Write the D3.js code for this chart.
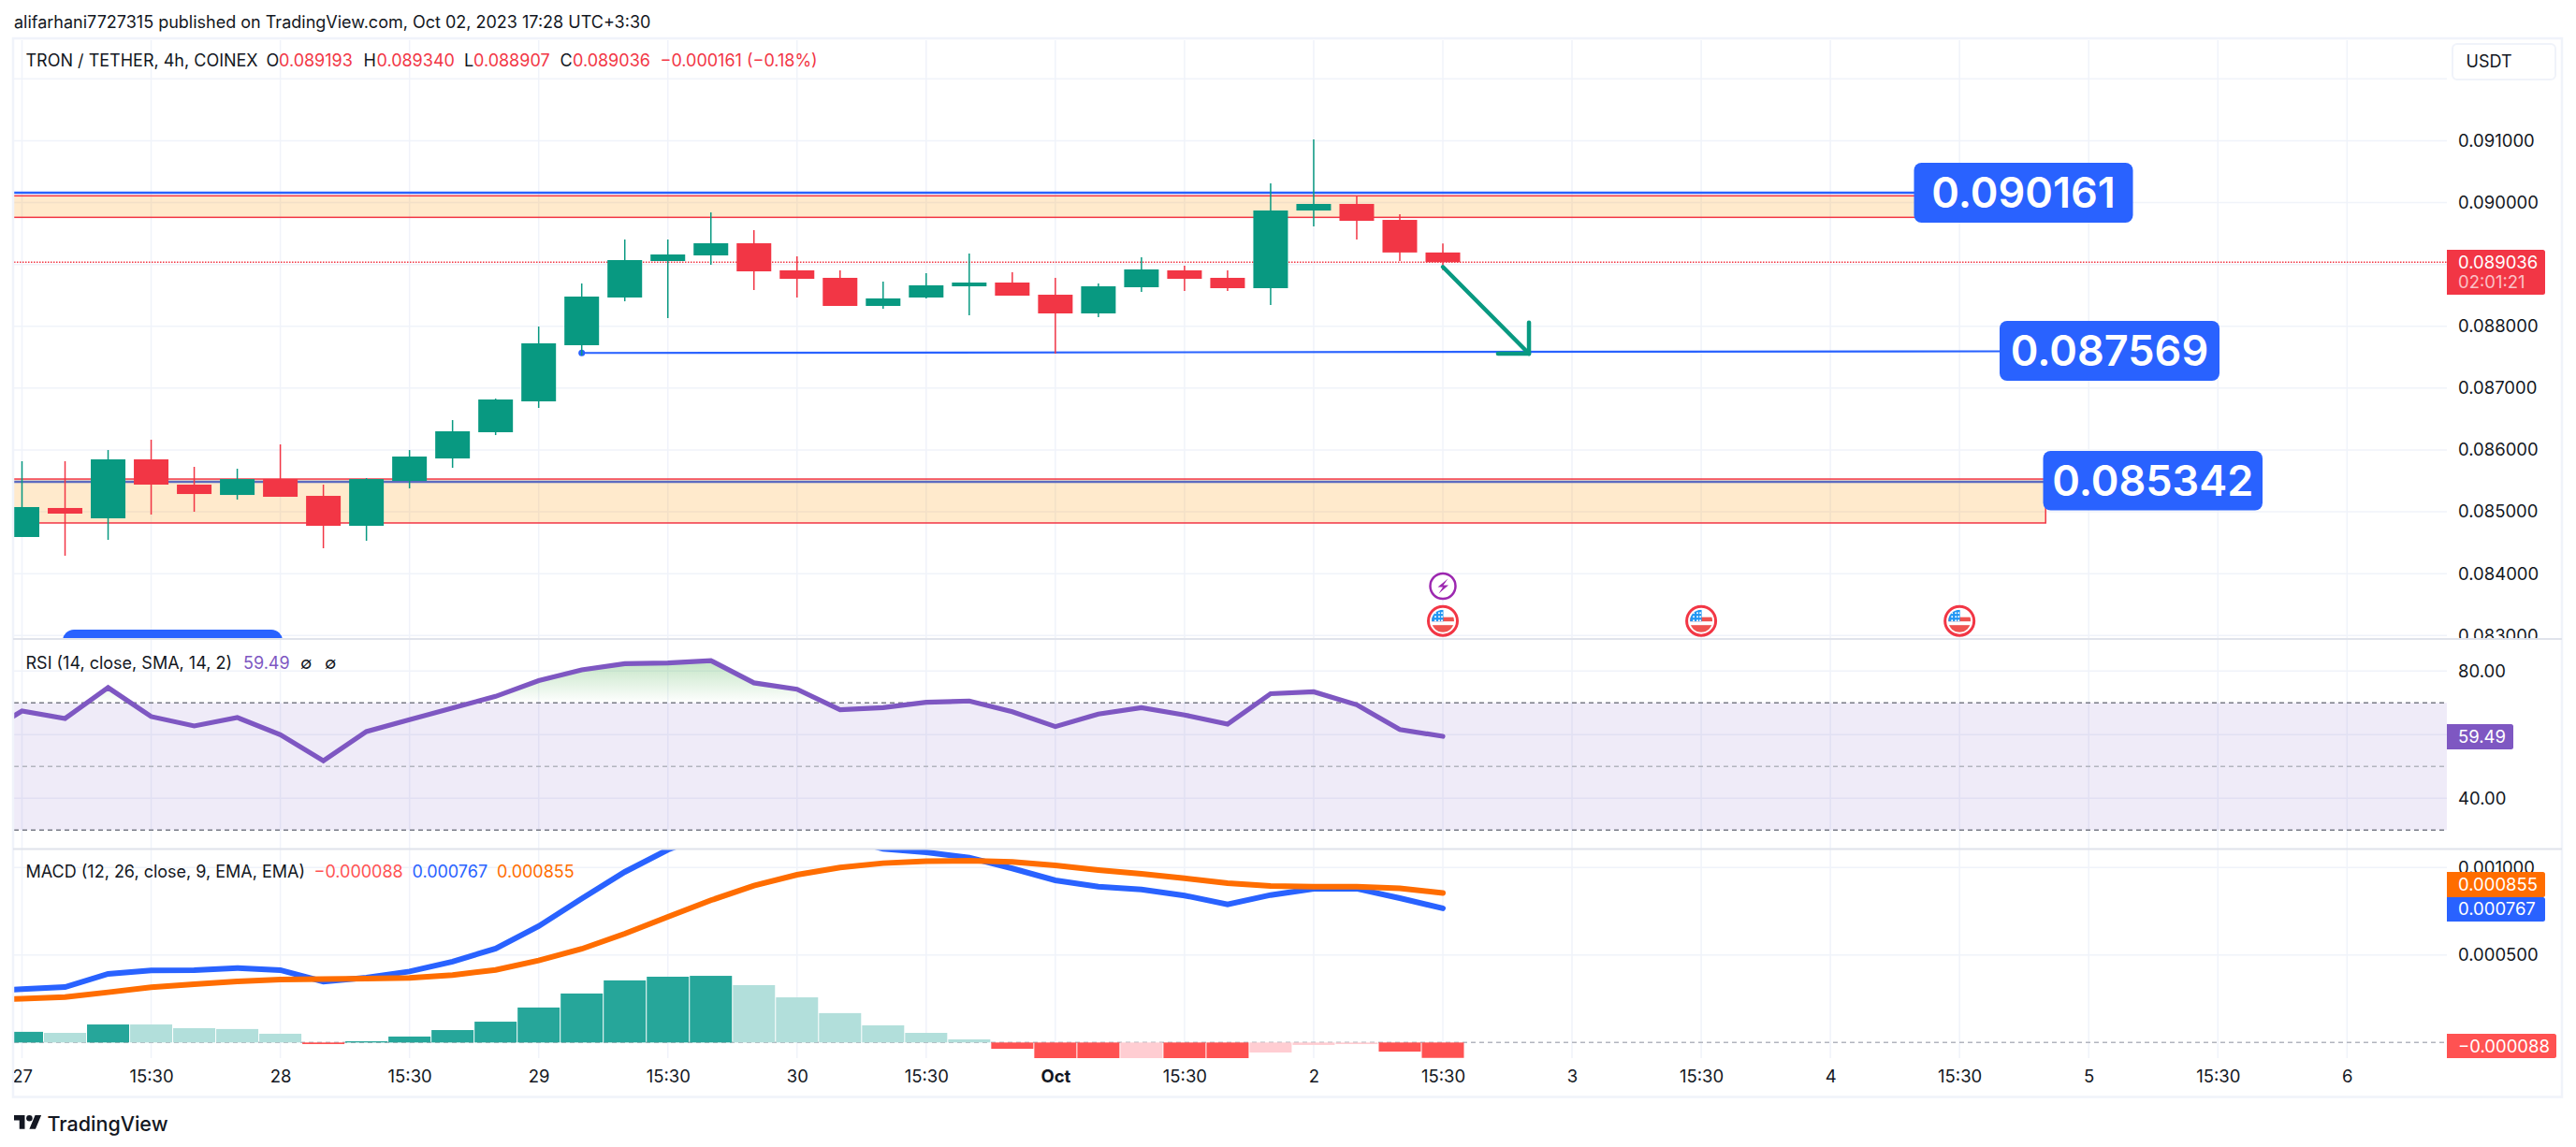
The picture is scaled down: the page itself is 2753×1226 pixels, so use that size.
<!DOCTYPE html>
<html>
<head>
<meta charset="utf-8">
<script src="https://cdn.jsdelivr.net/npm/d3@7"></script>
<style>
  html, body { margin: 0; padding: 0; background: #fff; }
  svg { display: block; }
  text { font-family: Inter, "Noto Sans", sans-serif; fill: #131722; }
  .axis path { display: none; }
  .axis text { font-family: Inter, "Noto Sans", sans-serif; font-size: 18.5px; fill: #131722; }
</style>
</head>
<body>
<div class="chart"></div>
<script>
// DATA ------------------------------
const open = [0.084593,0.085062,0.084895,0.085848,0.085440,0.085273,0.085530,0.085258,0.084774,0.085500,0.085863,0.086287,0.086786,0.087694,0.088465,0.089055,0.089146,0.089342,0.088904,0.088783,0.088329,0.088465,0.088646,0.088707,0.088510,0.088208,0.088631,0.088904,0.088783,0.088616,0.089872,0.089978,0.089720,0.089193];
const high = [0.085818,0.085818,0.085999,0.086166,0.085727,0.085697,0.086090,0.085440,0.085546,0.085999,0.086483,0.086831,0.087996,0.088692,0.089403,0.089403,0.089841,0.089554,0.089130,0.088904,0.088722,0.088858,0.089176,0.088873,0.088783,0.088692,0.089115,0.088979,0.088904,0.090310,0.091021,0.090099,0.089811,0.089340];
const low = [0.084593,0.084290,0.084547,0.084956,0.085001,0.085198,0.085243,0.084411,0.084532,0.085379,0.085712,0.086241,0.086680,0.087527,0.088404,0.088132,0.088994,0.088586,0.088465,0.088329,0.088283,0.088450,0.088178,0.088495,0.087557,0.088147,0.088556,0.088571,0.088571,0.088344,0.089615,0.089403,0.089055,0.088907];
const close = [0.085077,0.084971,0.085848,0.085440,0.085288,0.085530,0.085243,0.084774,0.085530,0.085894,0.086302,0.086816,0.087724,0.088480,0.089070,0.089161,0.089342,0.088888,0.088767,0.088329,0.088450,0.088662,0.088707,0.088495,0.088208,0.088646,0.088919,0.088767,0.088616,0.089872,0.089978,0.089705,0.089193,0.089036];

// rsi + macd + signal start one bar before the first candle (off the left edge)
const rsi = [59.2,67.45,65.1,74.8,65.7,62.75,65.4,60,51.8,61,64.7,68.4,72.05,77,80.4,82.35,82.55,83.3,76.3,74.3,67.85,68.5,70.2,70.6,67.2,62.55,66.5,68.5,66.2,63.3,72.9,73.5,69.4,61.6,59.49];
const macd = [0.000294,0.000305,0.000317,0.000392,0.000412,0.000414,0.000426,0.000414,0.000348,0.000371,0.000406,0.000462,0.000537,0.000665,0.000822,0.000975,0.001102,0.001194,0.001225,0.001217,0.001171,0.001107,0.001087,0.001057,0.000995,0.000927,0.000891,0.000875,0.000840,0.000790,0.000843,0.000879,0.000879,0.000825,0.000767];
const signal = [0.000241,0.000250,0.000260,0.000287,0.000316,0.000333,0.000349,0.000360,0.000362,0.000365,0.000369,0.000385,0.000415,0.000469,0.000535,0.000622,0.000718,0.000813,0.000897,0.000959,0.001000,0.001025,0.001036,0.001039,0.001032,0.001012,0.000986,0.000964,0.000939,0.000911,0.000895,0.000891,0.000891,0.000881,0.000855];
const hist = [0.000061,0.000055,0.000103,0.000103,0.000082,0.000077,0.000050,-0.000009,0.000007,0.000034,0.000071,0.000119,0.000200,0.000280,0.000355,0.000376,0.000381,0.000328,0.000258,0.000168,0.000098,0.000055,0.000018,-0.000036,-0.000100,-0.000110,-0.000095,-0.000105,-0.000120,-0.000057,-0.000014,-0.000009,-0.000052,-0.000088];

const timeLabels = ["27","15:30","28","15:30","29","15:30","30","15:30","Oct","15:30","2","15:30","3","15:30","4","15:30","5","15:30","6"];
const priceTicks = [0.083,0.084,0.085,0.086,0.087,0.088,0.09,0.091];
const priceGrid = [0.083,0.084,0.085,0.086,0.087,0.088,0.089,0.09,0.091,0.092];
const rsiTicks = [80,40];
const rsiGrid = [80,60,40];
const macdTicks = [0.0005,0.001];

const zones = [
  {top: 0.090109, bottom: 0.089761, endBar: 44.0},
  {top: 0.085530, bottom: 0.084820, endBar: 47.0}
];
const topLevel = 0.090161;
const targetLevel = [0.087569, 0.087595];
const supportLevel = 0.085485;
const lastPrice = 0.089036;

// CHART INIT ------------------------------
const W = 2753, H = 1226;
const left = 15, right = 2615, frameRight = 2738;
const svg = d3.select(".chart").append("svg")
    .attr("width", W)
    .attr("height", H);
const defs = svg.append("defs");

const x = d3.scaleLinear().domain([0, 33]).range([23.5, 1542]);
const yPrice = d3.scaleLinear().domain([0.083, 0.092]).range([679.3, 84.3]);
const yRsi = d3.scaleLinear().domain([40, 80]).range([853.3, 717.3]);
const yMacd = d3.scaleLinear().domain([0, 0.001]).range([1114.3, 927.3]);

const gridColor = "#f0f3fa", sepColor = "#e0e3eb";
const green = "#089981", red = "#f23645", blue = "#2962ff", purple = "#7e57c2", orange = "#ff6d00";

function addClip(id, x0, y0, x1, y1) {
  defs.append("clipPath").attr("id", id).append("rect")
      .attr("x", x0).attr("y", y0).attr("width", x1 - x0).attr("height", y1 - y0);
}
addClip("clip-main", left, 43, right, 683);
addClip("clip-rsi", left, 684, right, 907);
addClip("clip-macd", left, 908, right, 1131);
addClip("clip-rsi-top", left, 684, right, yRsi(70));
addClip("clip-axis-main", right, 43, frameRight, 683);

// header
svg.append("text").attr("x", 15).attr("y", 24).attr("dy", "0.35em")
    .attr("font-size", 18).text("alifarhani7727315 published on TradingView.com, Oct 02, 2023 17:28 UTC+3:30");

// GRID ------------------------------
const gridBars = d3.range(0, 55, 3);
svg.append("g").selectAll("line").data(gridBars).enter().append("line")
    .attr("x1", d => x(d)).attr("x2", d => x(d))
    .attr("y1", 43).attr("y2", 1131)
    .attr("stroke", gridColor).attr("stroke-width", 1.5);

function hGrid(values, scale) {
  svg.append("g").selectAll("line").data(values).enter().append("line")
      .attr("x1", left).attr("x2", right)
      .attr("y1", d => scale(d)).attr("y2", d => scale(d))
      .attr("stroke", gridColor).attr("stroke-width", 1.5);
}
hGrid(priceGrid, yPrice);
hGrid(rsiGrid, yRsi);
hGrid(macdTicks, yMacd);

// MAIN PANE ------------------------------
const main = svg.append("g").attr("clip-path", "url(#clip-main)");

// pill that is cut by the pane edge
main.append("rect").attr("x", 67).attr("y", 673).attr("width", 235).attr("height", 40).attr("rx", 12).attr("fill", blue);

// zones
main.selectAll(".zone").data(zones).enter().append("rect")
    .attr("class", "zone")
    .attr("x", left - 3)
    .attr("y", d => yPrice(d.top))
    .attr("width", d => x(d.endBar) - left + 3)
    .attr("height", d => yPrice(d.bottom) - yPrice(d.top))
    .attr("fill", "rgba(255,152,0,0.2)")
    .attr("stroke", red)
    .attr("stroke-width", 1.5);

// levels
main.append("line").attr("x1", left).attr("x2", x(44))
    .attr("y1", yPrice(topLevel)).attr("y2", yPrice(topLevel))
    .attr("stroke", blue).attr("stroke-width", 2.5);
main.append("line").attr("x1", left).attr("x2", x(47))
    .attr("y1", yPrice(supportLevel)).attr("y2", yPrice(supportLevel))
    .attr("stroke", "#5c6bc0").attr("stroke-width", 2.5);
main.append("line").attr("x1", x(13)).attr("x2", x(46))
    .attr("y1", yPrice(targetLevel[0])).attr("y2", yPrice(targetLevel[1]))
    .attr("stroke", blue).attr("stroke-width", 2.2);
main.append("circle").attr("cx", x(13)).attr("cy", yPrice(targetLevel[0])).attr("r", 3.5).attr("fill", blue);

// last price dotted
main.append("line").attr("x1", left).attr("x2", right)
    .attr("y1", yPrice(lastPrice)).attr("y2", yPrice(lastPrice))
    .attr("stroke", red).attr("stroke-width", 1.3).attr("stroke-dasharray", "1.5,1.5");

// candles
const barW = 37;
const bars = main.append("g").selectAll("g").data(open).enter().append("g")
    .attr("fill", (d, i) => close[i] >= open[i] ? green : red)
    .attr("stroke", (d, i) => close[i] >= open[i] ? green : red);
bars.append("line")
    .attr("x1", (d, i) => x(i)).attr("x2", (d, i) => x(i))
    .attr("y1", (d, i) => yPrice(high[i])).attr("y2", (d, i) => yPrice(low[i]))
    .attr("stroke-width", 1.5);
bars.append("rect")
    .attr("x", (d, i) => x(i) - barW / 2)
    .attr("y", (d, i) => yPrice(Math.max(open[i], close[i])))
    .attr("width", barW)
    .attr("height", (d, i) => Math.abs(yPrice(open[i]) - yPrice(close[i])))
    .attr("stroke", "none");

// arrow
const arrowFrom = [33, 0.088960], arrowTo = [35, 0.087557];
const arrowPts = [[arrowFrom, arrowTo], [[35, 0.088060], arrowTo], [[34.28, 0.087557], arrowTo]];
main.append("g").selectAll("line").data(arrowPts).enter().append("line")
    .attr("x1", d => x(d[0][0])).attr("y1", d => yPrice(d[0][1]))
    .attr("x2", d => x(d[1][0])).attr("y2", d => yPrice(d[1][1]))
    .attr("stroke", green).attr("stroke-width", 4.5).attr("stroke-linecap", "round");

// big labels
function bigLabel(x0, y0, w, h, txt) {
  main.append("rect").attr("x", x0).attr("y", y0).attr("width", w).attr("height", h).attr("rx", 8).attr("fill", blue);
  main.append("text").attr("x", x0 + w / 2).attr("y", y0 + h / 2).attr("dy", "0.36em")
      .attr("text-anchor", "middle").attr("font-size", 45).attr("font-weight", 600)
      .style("fill", "#fff").text(txt);
}
bigLabel(2045.5, 174, 234, 64, "0.090161");
bigLabel(2137, 343, 235, 64, "0.087569");
bigLabel(2183.5, 482, 234.5, 63.5, "0.085342");

// event icons
function flagIcon(cx, cy) {
  const g = main.append("g").attr("transform", `translate(${cx},${cy})`);
  g.append("circle").attr("r", 15.5).attr("fill", "#fff").attr("stroke", red).attr("stroke-width", 3);
  const id = "flag" + Math.round(cx);
  defs.append("clipPath").attr("id", id).append("circle").attr("r", 12);
  const f = g.append("g").attr("clip-path", `url(#${id})`);
  f.append("rect").attr("x", -12).attr("y", -12).attr("width", 24).attr("height", 24).attr("fill", "#fff");
  f.append("rect").attr("x", -12).attr("y", -4).attr("width", 24).attr("height", 4.5).attr("fill", "#ef5350");
  f.append("rect").attr("x", -12).attr("y", 4.5).attr("width", 24).attr("height", 8).attr("fill", "#ef5350");
  f.append("rect").attr("x", -12).attr("y", -12).attr("width", 12.5).attr("height", 12.5).attr("fill", "#2196f3");
  [-8, -4, 0].forEach(dy => [-8, -4, 0 - 1].forEach(dx => {
    f.append("circle").attr("cx", dx).attr("cy", dy - 0.5).attr("r", 1).attr("fill", "#fff");
  }));
}
const bolt = main.append("g").attr("transform", `translate(${x(33)},626.5)`);
bolt.append("circle").attr("r", 13.5).attr("fill", "#fff").attr("stroke", "#9c27b0").attr("stroke-width", 2.5);
bolt.append("path").attr("d", "M5.5,-8 L-5.5,1 L0,1 L-4.5,8 L6,-1 L0.5,-1 Z").attr("fill", "#9c27b0");
flagIcon(x(33), 663.7);
flagIcon(x(39), 663.7);
flagIcon(x(45), 663.7);

// RSI PANE ------------------------------
const rsiG = svg.append("g").attr("clip-path", "url(#clip-rsi)");
rsiG.append("rect").attr("x", left).attr("width", right - left)
    .attr("y", yRsi(70)).attr("height", yRsi(30) - yRsi(70))
    .attr("fill", purple).attr("fill-opacity", 0.12);
[[70, "#787b86"], [50, "#b2b5be"], [30, "#787b86"]].forEach(d => {
  rsiG.append("line").attr("x1", left).attr("x2", right)
      .attr("y1", yRsi(d[0])).attr("y2", yRsi(d[0]))
      .attr("stroke", d[1]).attr("stroke-width", 1.5).attr("stroke-dasharray", "5,4");
});

const grad = defs.append("linearGradient").attr("id", "rsi-grad")
    .attr("gradientUnits", "userSpaceOnUse")
    .attr("x1", 0).attr("x2", 0).attr("y1", yRsi(84)).attr("y2", yRsi(70));
grad.append("stop").attr("offset", 0).attr("stop-color", "#66bb6a").attr("stop-opacity", 0.42);
grad.append("stop").attr("offset", 1).attr("stop-color", "#66bb6a").attr("stop-opacity", 0);

rsiG.append("path").datum(rsi)
    .attr("clip-path", "url(#clip-rsi-top)")
    .attr("fill", "url(#rsi-grad)")
    .attr("d", d3.area().x((d, i) => x(i - 1)).y0(yRsi(70)).y1(d => yRsi(d)));
rsiG.append("path").datum(rsi)
    .attr("fill", "none").attr("stroke", purple).attr("stroke-width", 5.2)
    .attr("stroke-linecap", "round").attr("stroke-linejoin", "miter")
    .attr("d", d3.line().x((d, i) => x(i - 1)).y(d => yRsi(d)));

// MACD PANE ------------------------------
const macdG = svg.append("g").attr("clip-path", "url(#clip-macd)");
macdG.append("line").attr("x1", left).attr("x2", right)
    .attr("y1", yMacd(0)).attr("y2", yMacd(0))
    .attr("stroke", "#b2b5be").attr("stroke-width", 1.5).attr("stroke-dasharray", "5,4");

function histColor(i) {
  const prev = i > 0 ? hist[i - 1] : 0;
  if (hist[i] >= 0) return hist[i] > prev ? "#26a69a" : "#b2dfdb";
  return hist[i] < prev ? "#ff5252" : "#ffcdd2";
}
macdG.append("g").selectAll("rect").data(hist).enter().append("rect")
    .attr("x", (d, i) => x(i) - 22.5)
    .attr("width", 45)
    .attr("y", d => Math.min(yMacd(d), yMacd(0)))
    .attr("height", d => Math.abs(yMacd(d) - yMacd(0)))
    .attr("fill", (d, i) => histColor(i));

const macdLine = d3.line().x((d, i) => x(i - 1)).y(d => yMacd(d));
macdG.append("path").datum(macd).attr("fill", "none").attr("stroke", blue)
    .attr("stroke-width", 6).attr("stroke-linecap", "round").attr("d", macdLine);
macdG.append("path").datum(signal).attr("fill", "none").attr("stroke", orange)
    .attr("stroke-width", 6).attr("stroke-linecap", "round").attr("d", macdLine);

// AXES ------------------------------
const axisX = 2627;
svg.append("g").attr("clip-path", "url(#clip-axis-main)")
  .append("g").attr("class", "axis").attr("transform", `translate(${axisX},0)`)
    .call(d3.axisRight(yPrice).tickValues(priceTicks).tickSize(0).tickPadding(0).tickFormat(d3.format(".6f")));
svg.append("g").attr("class", "axis").attr("transform", `translate(${axisX},0)`)
    .call(d3.axisRight(yRsi).tickValues(rsiTicks).tickSize(0).tickPadding(0).tickFormat(d3.format(".2f")));
svg.append("g").attr("class", "axis").attr("transform", `translate(${axisX},0)`)
    .call(d3.axisRight(yMacd).tickValues(macdTicks).tickSize(0).tickPadding(0).tickFormat(d3.format(".6f")));

const xAxis = svg.append("g").attr("class", "axis").attr("transform", "translate(0,1144)")
    .call(d3.axisBottom(x).tickValues(gridBars).tickSize(0).tickPadding(0)
        .tickFormat((d, i) => timeLabels[i]));
xAxis.selectAll("text")
    .style("font-weight", (d, i) => timeLabels[i] == "Oct" ? 700 : 400);

// price tags
function tag(y0, h, w, fill, lines) {
  svg.append("rect").attr("x", right + 4).attr("y", y0).attr("width", w - 4).attr("height", h).attr("rx", 2.5).attr("fill", fill);
  svg.append("rect").attr("x", right).attr("y", y0).attr("width", 10).attr("height", h).attr("fill", fill);
  lines.forEach(l => {
    svg.append("text").attr("x", axisX).attr("y", l.y).attr("dy", "0.35em")
        .attr("font-size", 18.5).style("fill", "#fff")
        .style("fill-opacity", l.op || 1).text(l.t);
  });
}
tag(267, 48, 105, red, [{t: "0.089036", y: 280.5}, {t: "02:01:21", y: 302, op: 0.7}]);
tag(774, 27, 71, purple, [{t: "59.49", y: 787.5}]);
tag(932, 27, 105, orange, [{t: "0.000855", y: 945.5}]);
tag(959, 26, 105, blue, [{t: "0.000767", y: 972}]);
tag(1105, 26, 117, "#ff5252", [{t: "−0.000088", y: 1118.5}]);

// USDT button
svg.append("rect").attr("x", 2621).attr("y", 47).attr("width", 110).attr("height", 38).attr("rx", 5)
    .attr("fill", "#fff").attr("stroke", gridColor).attr("stroke-width", 2);
svg.append("text").attr("x", 2635.5).attr("y", 65.5).attr("dy", "0.35em").attr("font-size", 18).text("USDT");

// LEGENDS ------------------------------
function legend(y, pieces) {
  pieces.forEach(p => {
    svg.append("text").attr("x", p[0]).attr("y", y).attr("dy", "0.35em")
        .attr("font-size", 18).style("fill", p[2] || "#131722").text(p[1]);
  });
}
legend(65, [
  [27.5, "TRON / TETHER, 4h, COINEX"],
  [284.5, "O"], [298, "0.089193", red],
  [388.5, "H"], [402.5, "0.089340", red],
  [496, "L"], [506, "0.088907", red],
  [598.5, "C"], [612, "0.089036", red],
  [705.5, "−0.000161 (−0.18%)", red]
]);
legend(709, [
  [27.5, "RSI (14, close, SMA, 14, 2)"],
  [260, "59.49", purple],
  [321, "∅", "#131722"], [347, "∅", "#131722"]
]);
legend(932, [
  [27.5, "MACD (12, 26, close, 9, EMA, EMA)"],
  [335.5, "−0.000088", "#ff5252"],
  [440.5, "0.000767", blue],
  [531, "0.000855", orange]
]);

// FRAME ------------------------------
svg.append("rect").attr("x", 14).attr("y", 41).attr("width", frameRight - 14).attr("height", 1131.5)
    .attr("fill", "none").attr("stroke", gridColor).attr("stroke-width", 2.5);
[683, 907.5].forEach(y => {
  svg.append("line").attr("x1", 14).attr("x2", frameRight).attr("y1", y).attr("y2", y)
      .attr("stroke", sepColor).attr("stroke-width", 2);
});

// logo
const logo = svg.append("g").attr("transform", "translate(15,1188.6) scale(0.82)").attr("fill", "#131722");
logo.append("path").attr("d", "M14 22H7V11H0V4h14v18zM28 22h-8l7.5-18h8L28 22z");
logo.append("circle").attr("cx", 20).attr("cy", 8).attr("r", 4);
svg.append("text").attr("x", 50.5).attr("y", 1201).attr("dy", "0.35em").attr("font-size", 21.5).attr("font-weight", 500)
    .text("TradingView");
</script>
</body>
</html>
